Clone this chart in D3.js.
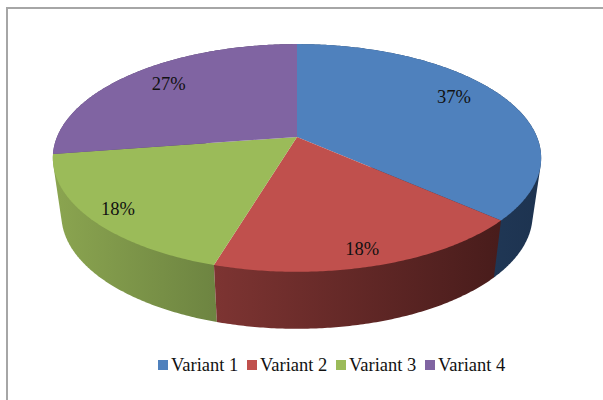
<!DOCTYPE html>
<html>
<head>
<meta charset="utf-8">
<script src="https://cdn.jsdelivr.net/npm/d3@7"></script>
<style>
  html, body { margin: 0; padding: 0; background: #fff; }
  svg { display: block; }
  text { font-family: "Liberation Serif", serif; fill: #111; }
</style>
</head>
<body>
<div id="chart"></div>
<script>
const categories = ['Variant 1', 'Variant 2', 'Variant 3', 'Variant 4'];
const shares = [36.6, 18, 18, 27.4];
const topColors = ['#4f81bd', '#c0504d', '#9bbb59', '#8064a2'];
const wallLeft = ['#2a4668', '#7d3432', '#8ba550', '#5c4876'];
const wallRight = ['#1d3350', '#481c1b', '#6d8441', '#45355a'];

const width = 603, height = 400;

const svg = d3.select('#chart')
    .append('svg')
    .attr('width', width)
    .attr('height', height);

// Frame
svg.append('path')
    .attr('d', 'M7,400V8H603')
    .attr('fill', 'none')
    .attr('stroke', '#a6a6a6')
    .attr('stroke-width', 2);

// Tilted disc: unit circle projected with a bit of perspective
const cx = 297, cy = 137, rx = 240, ryScale = 110, persp = 0.184;
const depth = 57, bottomShrink = 0.965;

function topPoint(a) {
    const X = Math.sin(a), Y = -Math.cos(a);
    const w = 1 - persp * Y;
    return [cx + rx * X / w, cy + ryScale * Y / w];
}

function bottomPoint(a) {
    const p = topPoint(a);
    return [cx + (p[0] - cx) * bottomShrink, p[1] + depth];
}

function arcAngles(a0, a1) {
    const n = Math.ceil((a1 - a0) / 0.01);
    return d3.range(n + 1).map(i => a0 + (a1 - a0) * i / n);
}

const pie = d3.pie().sort(null)(shares);
const line = d3.line();
const defs = svg.append('defs');

// Side walls first, the top faces cover whatever is behind them.
// Hull of both arcs gives the straight edge at the left and right of the disc.
const walls = svg.append('g');
[0, 3, 2, 1].forEach(i => {
    const d = pie[i];
    const angles = arcAngles(d.startAngle, d.endAngle);
    const hull = d3.polygonHull(angles.map(topPoint).concat(angles.map(bottomPoint)));
    const xs = d3.extent(hull, p => p[0]);

    const grad = defs.append('linearGradient')
        .attr('id', `wall${i}`)
        .attr('gradientUnits', 'userSpaceOnUse')
        .attr('x1', xs[0]).attr('x2', xs[1])
        .attr('y1', 0).attr('y2', 0);
    grad.append('stop').attr('offset', 0).attr('stop-color', wallLeft[i]);
    grad.append('stop').attr('offset', 1).attr('stop-color', wallRight[i]);

    walls.append('path')
        .attr('d', line(hull) + 'Z')
        .attr('fill', `url(#wall${i})`);
});

// Top faces
const faces = svg.append('g');
pie.forEach((d, i) => {
    const pts = [[cx, cy]].concat(arcAngles(d.startAngle, d.endAngle).map(topPoint));
    faces.append('path')
        .attr('d', line(pts) + 'Z')
        .attr('fill', topColors[i]);
});

// Percent labels, placed along the mid angle of each slice, then nudged by hand
const labelReach = [0.78, 0.87, 0.87, 0.79];
const labelNudgeX = [-2, -4, 0, 0];
const labelNudgeY = [-7, 0, 1, -2];
const pct = d3.format('.0%');
svg.append('g')
    .selectAll('text')
    .data(pie)
    .join('text')
    .attr('text-anchor', 'middle')
    .attr('font-size', 18.5)
    .attr('x', (d, i) => {
        const p = topPoint((d.startAngle + d.endAngle) / 2);
        return cx + (p[0] - cx) * labelReach[i] + labelNudgeX[i];
    })
    .attr('y', (d, i) => {
        const p = topPoint((d.startAngle + d.endAngle) / 2);
        return cy + (p[1] - cy) * labelReach[i] + 6 + labelNudgeY[i];
    })
    .text(d => pct(d.value / 100));

// Legend
const legendX = d3.scalePoint().domain(categories).range([158, 425]);
const legend = svg.append('g')
    .selectAll('g')
    .data(categories)
    .join('g')
    .attr('transform', d => `translate(${legendX(d)},360)`);
legend.append('rect')
    .attr('width', 10)
    .attr('height', 10)
    .attr('fill', (d, i) => topColors[i]);
legend.append('text')
    .attr('x', 13)
    .attr('y', 11)
    .attr('font-size', 18.5)
    .text(d => d);
</script>
</body>
</html>
